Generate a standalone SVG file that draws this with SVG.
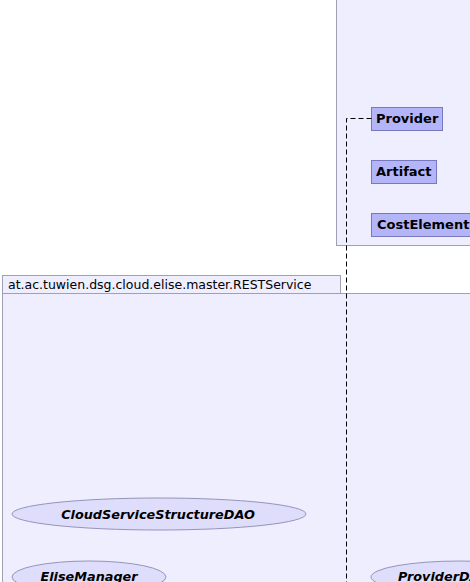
<svg xmlns="http://www.w3.org/2000/svg" width="470" height="582" viewBox="0 0 470 582">
<style>
.pkg{fill:#eeeeff;stroke:#a0a0b4;stroke-width:1}
.cls{fill:#b4b4f8;stroke:#7878c0;stroke-width:1}
.ctext{font-family:"DejaVu Sans",sans-serif;font-weight:bold;font-size:13px;fill:#000}
.iface{fill:#dedefc;stroke:#9494b8;stroke-width:1}
.itext{font-family:"DejaVu Sans",sans-serif;font-weight:bold;font-style:oblique;font-size:12.8px;fill:#000}
.ptext{font-family:"DejaVu Sans",sans-serif;font-size:12.5px;fill:#000}
.dep{fill:none;stroke:#000;stroke-width:1;stroke-dasharray:5,3}
</style>
<rect width="470" height="582" fill="#ffffff"/>
<g id="pkg-top">
<rect class="pkg" x="336.5" y="-10" width="150" height="255.5"/>
</g>
<g id="pkg-rest">
<rect class="pkg" x="2.5" y="275.5" width="338" height="18"/>
<text class="ptext" x="8" y="289">at.ac.tuwien.dsg.cloud.elise.master.RESTService</text>
<rect class="pkg" x="2.5" y="293.5" width="480" height="300"/>
</g>
<g id="Provider">
<rect class="cls" x="371.5" y="107.5" width="71" height="23"/>
<text class="ctext" x="376" y="123">Provider</text>
</g>
<g id="Artifact">
<rect class="cls" x="371.5" y="160.5" width="65" height="23"/>
<text class="ctext" x="376" y="176">Artifact</text>
</g>
<g id="CostElement">
<rect class="cls" x="371.5" y="213.5" width="110" height="23"/>
<text class="ctext" x="377" y="229">CostElement</text>
</g>
<g id="CloudServiceStructureDAO">
<ellipse class="iface" cx="159" cy="514" rx="147" ry="16"/>
<text class="itext" x="158" y="518.5" text-anchor="middle">CloudServiceStructureDAO</text>
</g>
<g id="EliseManager">
<ellipse class="iface" cx="89" cy="577" rx="77" ry="16"/>
<text class="itext" x="89" y="581" text-anchor="middle">EliseManager</text>
</g>
<g id="ProviderDAO">
<ellipse class="iface" cx="460" cy="577" rx="89" ry="16"/>
<text class="itext" x="398" y="581">ProviderDAO</text>
</g>
<g id="connectors">
<path class="dep" d="M371.5,118.5 H346.5 V582"/>
</g>
</svg>
